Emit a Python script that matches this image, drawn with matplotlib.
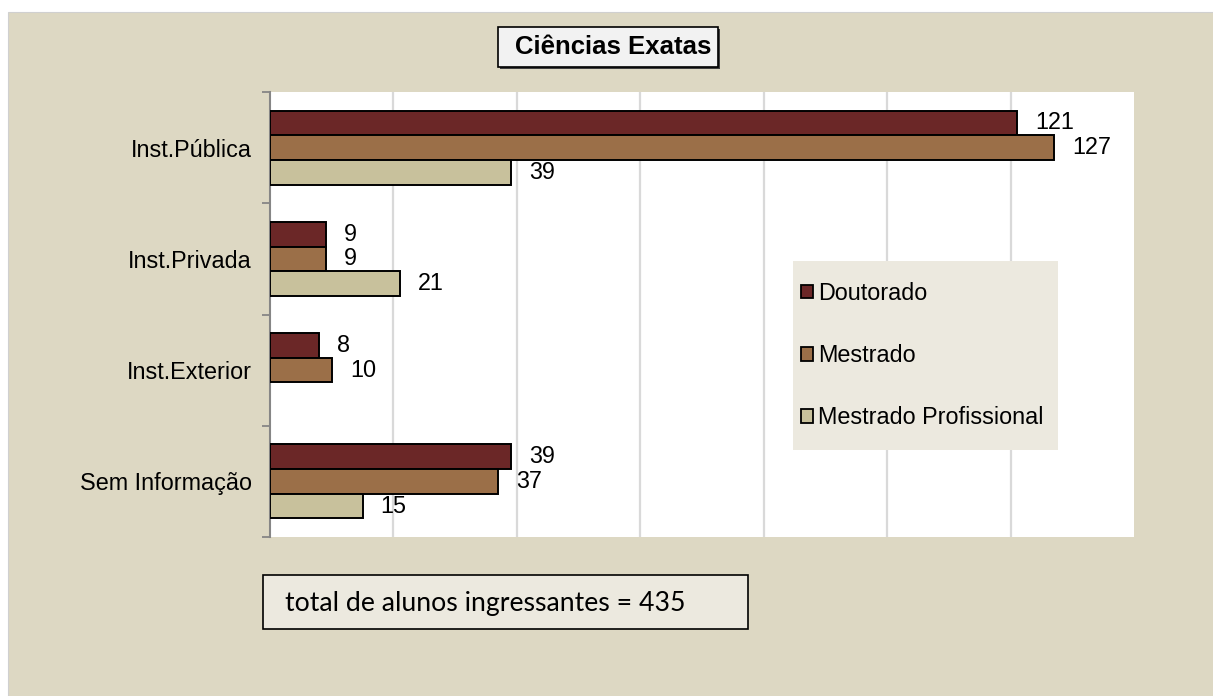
import matplotlib
matplotlib.use("Agg")
import matplotlib.pyplot as plt
import numpy as np
from matplotlib.patches import Rectangle, Patch

categories = ["Inst.Pública", "Inst.Privada", "Inst.Exterior", "Sem Informação"]
series_names = ["Doutorado", "Mestrado", "Mestrado Profissional"]
doutorado = [121, 9, 8, 39]
mestrado = [127, 9, 10, 37]
mestrado_prof = [39, 21, 0, 15]
title = "Ciências Exatas"
total_text = "total de alunos ingressantes = 435"

colors = ["#6B2727", "#9B6F48", "#C8C19C"]
bg = "#DDD8C3"
box_bg = "#ECE9DF"
FONT = "Liberation Sans"
FS = 16.8

W, H = 1213, 696
fig = plt.figure(figsize=(W / 100, H / 100), dpi=100)
fig.patch.set_facecolor("white")

# beige background panel
fig.patches.append(Rectangle((8 / W, -0.01), 1 - 8 / W + 0.01, 1 - 12 / H + 0.01, transform=fig.transFigure,
                             facecolor=bg, edgecolor="#D0D0D0", linewidth=0.8, zorder=-10))

ax = fig.add_axes([270 / W, 1 - 537 / H, (1134 - 270) / W, (537 - 92) / H])
ax.set_facecolor("white")

y = np.arange(len(categories))
h = 0.222
series = [doutorado, mestrado, mestrado_prof]
for i, (vals, name, c) in enumerate(zip(series, series_names, colors)):
    pos = y + (i - 1) * h
    bars = ax.barh(pos, vals, height=h, color=c, edgecolor="black", linewidth=1.4, label=name, zorder=3)
    for b, v in zip(bars, vals):
        if v == 0:
            b.set_visible(False)
    for p, v in zip(pos, vals):
        if v > 0:
            ax.annotate(str(v), xy=(v, p), xytext=(13, 0), textcoords="offset points",
                        ha="left", va="center", fontsize=FS, family=FONT,
                        color="black", zorder=4)

ax.set_xlim(0, 140)
ax.set_ylim(3.5, -0.5)
ax.set_xticks(np.arange(20, 140, 20))
ax.xaxis.grid(True, color="#D9D9D9", linewidth=1.6, zorder=0)
ax.tick_params(axis="x", bottom=False, labelbottom=False)
ax.set_yticks(y)
ax.set_yticklabels(categories, fontsize=FS, family=FONT)
ax.tick_params(axis="y", which="major", length=0, pad=13)
ax.set_yticks(np.arange(-0.5, 4, 1), minor=True)
ax.tick_params(axis="y", which="minor", length=6, width=1.3, color="#868686", direction="out")
for s in ["top", "right", "bottom"]:
    ax.spines[s].set_visible(False)
ax.spines["left"].set_color("#868686")
ax.spines["left"].set_linewidth(1.5)

# legend background
fig.patches.append(Rectangle((793 / W, 1 - 450 / H), (1058 - 793) / W, (450 - 261) / H,
                             transform=fig.transFigure, facecolor=box_bg, edgecolor="none",
                             zorder=5))
handles = [Patch(facecolor=c, edgecolor="black", linewidth=1.3, label=n)
           for c, n in zip(colors, series_names)]
leg = fig.legend(handles=handles, loc="upper left",
                 bbox_to_anchor=(801 / W, 1 - 282 / H),
                 prop={"family": FONT, "size": FS},
                 frameon=False, handlelength=0.5, handleheight=0.5, handletextpad=0.25,
                 labelspacing=1.68, borderpad=0, borderaxespad=0)
leg.set_zorder(6)

# title box
fig.patches.append(Rectangle((500 / W, 1 - 69 / H), (720 - 500) / W, (69 - 29) / H,
                             transform=fig.transFigure, facecolor="#404040", edgecolor="none",
                             zorder=1))
fig.patches.append(Rectangle((498 / W, 1 - 67 / H), (718 - 498) / W, (67 - 27) / H,
                             transform=fig.transFigure, facecolor="#F2F2F2", edgecolor="black",
                             linewidth=1.2, zorder=2))
fig.text(613 / W, 1 - 47 / H, title, ha="center", va="center", fontsize=18.5,
         fontweight="bold", family=FONT, zorder=3)

# total box
fig.patches.append(Rectangle((263 / W, 1 - 629 / H), (748 - 263) / W, (629 - 575) / H,
                             transform=fig.transFigure, facecolor=box_bg, edgecolor="black",
                             linewidth=1.2, zorder=2))
fig.text(285 / W, 1 - 603 / H, total_text, ha="left", va="center", fontsize=19.2,
         family="Lato", zorder=3)

fig.savefig("out.png", dpi=100, facecolor=fig.get_facecolor())
